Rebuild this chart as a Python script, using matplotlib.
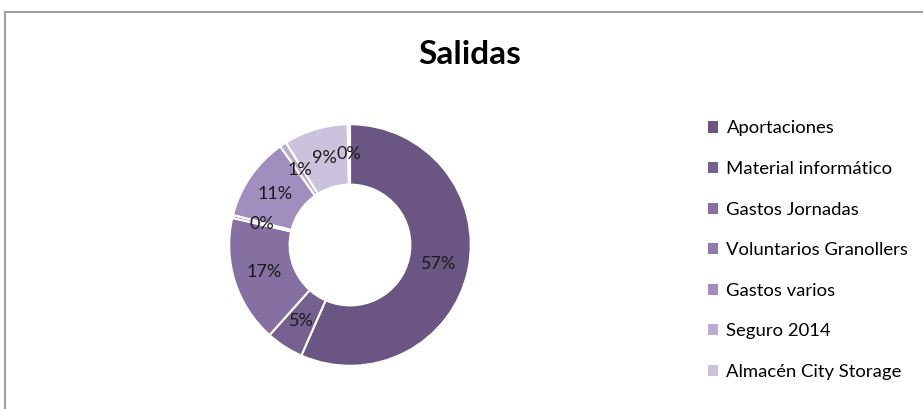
import matplotlib.pyplot as plt
from matplotlib.patches import Patch

plt.rcParams['font.family'] = ['Lato', 'DejaVu Sans']

categorias = ["Aportaciones", "Material informático", "Gastos Jornadas",
              "Voluntarios Granollers", "Gastos varios", "Seguro 2014",
              "Almacén City Storage", "Otros"]
porcentajes = [56.6, 5.0, 17.0, 0.4, 11.2, 0.9, 8.6, 0.3]
colores = ["#6b5583", "#76608f", "#8670a2", "#917aaf", "#a18ebf",
           "#b9acd0", "#cbc3dd", "#dcd6e8"]
n_leyenda = 7

fig = plt.figure(figsize=(9.23, 4.09), dpi=100)

# marco del grafico
fig.add_artist(plt.Line2D([4.5/923, 1], [1-11.5/409]*2, color="#a0a0a0", lw=1.5))
fig.add_artist(plt.Line2D([4.5/923]*2, [0, 1-11.5/409], color="#a0a0a0", lw=1.5))

ax = fig.add_axes([228/923, 42/409, 244/923, 244/409])
wedges, textos, pct = ax.pie(porcentajes, colors=colores, startangle=90,
                             counterclock=False, radius=1,
                             autopct="%.0f%%", pctdistance=0.75,
                             wedgeprops=dict(width=0.5, edgecolor="white", linewidth=1.5),
                             textprops=dict(fontsize=13, color="#1a1a1a"))
ax.set_xlim(-1.01, 1.01)
ax.set_ylim(-1.01, 1.01)
ax.axis("off")

fig.text(470/923, 1-54/409, "Salidas", ha="center", va="center",
         fontsize=24, fontweight="bold", color="black")

handles = [Patch(facecolor=colores[i], label=categorias[i]) for i in range(n_leyenda)]
fig.legend(handles=handles, loc="upper left", bbox_to_anchor=(708/923, 1-120.5/409),
           frameon=False, fontsize=13.3, handlelength=0.55, handleheight=0.55,
           handletextpad=0.45, labelspacing=1.33, borderpad=0, borderaxespad=0)

plt.savefig("out.png", dpi=100)
